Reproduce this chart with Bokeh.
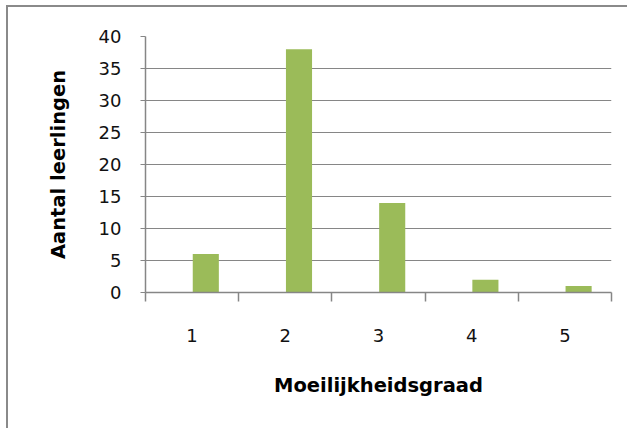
from bokeh.plotting import figure
from bokeh.models import ColumnDataSource, Range1d, FixedTicker
from bokeh.transform import dodge
from bokeh.embed import file_html
from bokeh.resources import INLINE

# Data
categories = [1, 2, 3, 4, 5]
counts = [6, 38, 14, 2, 1]
y_ticks = [0, 5, 10, 15, 20, 25, 30, 35, 40]
x_title = "Moeilijkheidsgraad"
y_title = "Aantal leerlingen"

GRAY = "#868686"
GREEN = "#9BBB59"

source = ColumnDataSource(data=dict(x=categories, count=counts))

p = figure(
    output_backend="svg",
    toolbar_location=None,
    tools="",
    frame_width=466,
    frame_height=256,
    min_border_left=137,
    min_border_top=29,
    min_border_right=16,
    min_border_bottom=136,
    x_range=Range1d(categories[0] - 0.5, categories[-1] + 0.5),
    y_range=Range1d(y_ticks[0], y_ticks[-1]),
    background_fill_color="white",
    border_fill_color="white",
)
p.styles = {
    "margin-left": "6px",
    "margin-top": "5px",
    "border-top": "2px solid #8a8a8a",
    "border-left": "2px solid #8a8a8a",
}
p.outline_line_color = None

p.vbar(
    x=dodge("x", 0.147, range=p.x_range),
    top="count",
    width=0.28,
    source=source,
    fill_color=GREEN,
    line_color=None,
)

# X axis
boundaries = [c - 0.5 for c in categories] + [categories[-1] + 0.5]
p.xaxis.ticker = FixedTicker(ticks=categories, minor_ticks=boundaries)
p.xaxis.major_tick_out = 0
p.xaxis.major_tick_in = 0
p.xaxis.minor_tick_out = 9
p.xaxis.minor_tick_in = 0
p.xaxis.minor_tick_line_color = GRAY
p.xaxis.minor_tick_line_width = 1.5
p.xaxis.axis_line_color = GRAY
p.xaxis.axis_line_width = 1.5
p.xaxis.major_label_standoff = 27
p.xaxis.major_label_text_font = "DejaVu Sans"
p.xaxis.major_label_text_font_size = "18px"
p.xaxis.major_label_text_color = "#111111"
p.xaxis.axis_label = x_title
p.xaxis.axis_label_text_font = "DejaVu Sans"
p.xaxis.axis_label_text_font_style = "bold"
p.xaxis.axis_label_text_font_size = "19.5px"
p.xaxis.axis_label_text_color = "#000000"
p.xaxis.axis_label_standoff = 29

# Y axis
p.yaxis.ticker = FixedTicker(ticks=y_ticks)
p.yaxis.major_tick_out = 5
p.yaxis.major_tick_in = 0
p.yaxis.minor_tick_out = 0
p.yaxis.minor_tick_in = 0
p.yaxis.major_tick_line_color = GRAY
p.yaxis.axis_line_color = GRAY
p.yaxis.axis_line_width = 1.5
p.yaxis.major_label_standoff = 19
p.yaxis.major_label_text_font = "DejaVu Sans"
p.yaxis.major_label_text_font_size = "18px"
p.yaxis.major_label_text_color = "#111111"
p.yaxis.axis_label = y_title
p.yaxis.axis_label_text_font = "DejaVu Sans"
p.yaxis.axis_label_text_font_style = "bold"
p.yaxis.axis_label_text_font_size = "19.5px"
p.yaxis.axis_label_text_color = "#000000"
p.yaxis.axis_label_standoff = 26

p.xgrid.grid_line_color = None
p.ygrid.grid_line_color = GRAY
p.ygrid.grid_line_width = 1

open("out.html", "w").write(file_html(p, INLINE))
